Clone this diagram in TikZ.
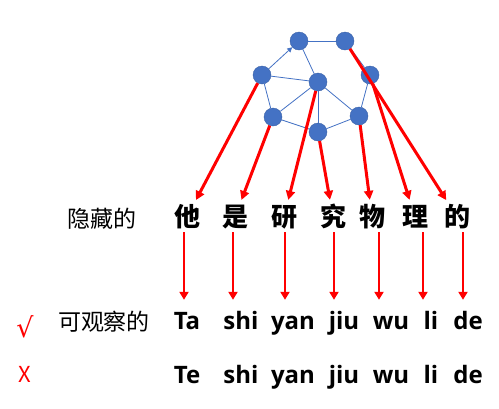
\documentclass[tikz,border=0pt]{standalone}
\usepackage{fontspec}
\setmainfont{Open Sans}
\newfontfamily\cjk{Noto Sans CJK SC}
\newfontfamily\symfont{DejaVu Sans}
\usetikzlibrary{arrows.meta, positioning}
\definecolor{nodeblue}{HTML}{4472C4}
\tikzset{
  vertex/.style={circle, fill=nodeblue, draw=nodeblue!85!black, line width=0.4pt, minimum size=18pt, inner sep=0pt},
  link/.style={nodeblue, line width=0.8pt},
  hidchar/.style={font={\cjk\bfseries\fontsize{26pt}{26pt}\selectfont}, minimum width=30pt, minimum height=30pt, inner sep=0pt, text height=21.6pt, text depth=1.8pt},
  pinyin/.style={font={\bfseries\fontsize{24pt}{24pt}\selectfont}, anchor=base, inner xsep=0pt, inner ysep=7pt, text height=22pt, text depth=5pt},
  rowlabel/.style={font={\cjk\fontsize{23pt}{23pt}\selectfont}, inner sep=0pt, text height=19pt, text depth=1.6pt},
  checkmark/.style={red, inner sep=0pt},
  emit/.style={red, line width=3pt, -{Triangle[length=9pt,width=9pt]}, shorten >=2pt},
  observe/.style={red, line width=2.6pt, -{Triangle[length=8pt,width=9pt]}}
}
\begin{document}
\begin{tikzpicture}[x=1pt, y=-1pt]
\useasboundingbox (0,0) rectangle (499,408);

% Hidden state network
\foreach \n/\x/\y in {1/299/41, 2/345/41, 3/262/75, 4/318/82, 5/370/75, 6/273/117, 7/359/116, 8/318/132}
  \node[vertex] (v\n) at (\x,\y) {};

\draw[link, -{Triangle[length=5pt,width=5pt]}] (v3) -- (v1);
\foreach \a/\b in {1/2, 1/4, 3/4, 3/6, 6/4, 6/8, 4/8, 4/7, 8/7, 7/5, 2/5}
  \draw[link] (v\a) -- (v\b);

% Hidden characters
\node[rowlabel] (hidlabel) at (102,219) {隐藏的};
\foreach \i/\x/\c in {1/187/他, 2/235/是, 3/284/研, 4/333/究, 5/372/物, 6/415/理, 7/457/的}
  \node[hidchar] (c\i) at (\x,217) {\c};

% Observed pinyin
\node[checkmark, font={\symfont\fontsize{27pt}{27pt}\selectfont}] (okmark) at (25,327) {√};
\node[rowlabel] (obslabel) at (104,322) {可观察的};
\foreach \i/\x/\s in {1/187/Ta, 2/241/shi, 3/293/yan, 4/344/jiu, 5/391/wu, 6/431/li, 7/468/de}
  \node[pinyin] (p\i) at (\x,329) {\s};

% Wrong pinyin
\node[checkmark, font={\cjk\fontsize{22pt}{22pt}\selectfont}] (nomark) at (25,374) {X};
\foreach \i/\x/\s in {1/187/Te, 2/241/shi, 3/293/yan, 4/344/jiu, 5/391/wu, 6/431/li, 7/468/de}
  \node[pinyin] (q\i) at (\x,383) {\s};

% Emissions from the network
\foreach \a/\b in {3/1, 6/2, 4/3, 8/4, 7/5, 5/6, 2/7}
  \draw[emit] (v\a) -- (c\b);

% Hidden to observed
\foreach \i/\dx in {1/-3, 2/-2, 3/1, 4/1, 5/7, 6/8, 7/6}
  \draw[observe] ([xshift=\dx pt]c\i.south) -- ([xshift=\dx pt]c\i.south |- p\i.north);
\end{tikzpicture}
\end{document}
